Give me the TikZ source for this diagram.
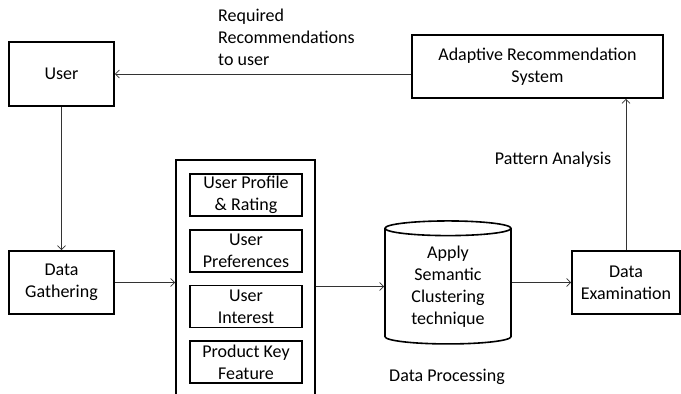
\documentclass[tikz,border=0pt]{standalone}
\usepackage{fontspec}
\setmainfont{Carlito}
\usetikzlibrary{shapes.geometric,arrows.meta}

\begin{document}
\begin{tikzpicture}[x=1pt, y=-1pt, font=\fontsize{18}{22}\selectfont,
  >={Straight Barb[length=4pt,width=8pt]},
  main node/.style={draw, line width=1.6pt, align=center, inner sep=0pt},
  sub node/.style={draw, line width=1.4pt, align=center, inner sep=0pt,
    minimum width=112pt, minimum height=42pt},
  flow/.style={->, line width=0.8pt, draw=black!80}]
\useasboundingbox (0,0) rectangle (681,394);

% boxes
\node[main node, minimum width=105pt, minimum height=64pt] (user) at (61.5,74) {User};
\node[main node, minimum width=251pt, minimum height=63pt] (ars) at (537.5,66.5) {Adaptive Recommendation\\System};
\node[main node, minimum width=105pt, minimum height=63pt] (gather) at (61.5,282.5) {Data\\Gathering};
\node[main node, minimum width=139pt, minimum height=260pt] (feat) at (245.5,290) {};
\node[sub node] (prof) at (246,195) {User Profile\\\& Rating};
\node[sub node] (pref) at (246,251) {User\\Preferences};
\node[sub node] (intr) at (246,306.5) {User\\Interest};
\node[sub node] (pkey) at (246,362) {Product Key\\Feature};
\node[main node, cylinder, shape border rotate=90, aspect=0.2,
  minimum width=126pt, minimum height=123pt] (cyl) at (448,286.5) {Apply\\Semantic\\Clustering\\technique};
\node[main node, minimum width=108pt, minimum height=63pt] (exam) at (626,282.5) {Data\\Examination};

% labels
\node[anchor=north west, align=left, inner sep=0pt] (req) at (218,9) {Required\\Recommendations\\to user};
\node (pat) at (553,160) {Pattern Analysis};
\node (proc) at (447,377) {Data Processing};

% connectors
\draw[flow] (ars.west |- user) -- (user.east);
\draw[flow] (user) -- (gather);
\draw[flow] (gather) -- (gather -| feat.west);
\draw[flow] (cyl -| feat.east) -- (cyl.west);
\draw[flow] (cyl.east |- exam) -- (exam.west);
\draw[flow] (exam.north) -- (exam.north |- ars.south);
\end{tikzpicture}
\end{document}
